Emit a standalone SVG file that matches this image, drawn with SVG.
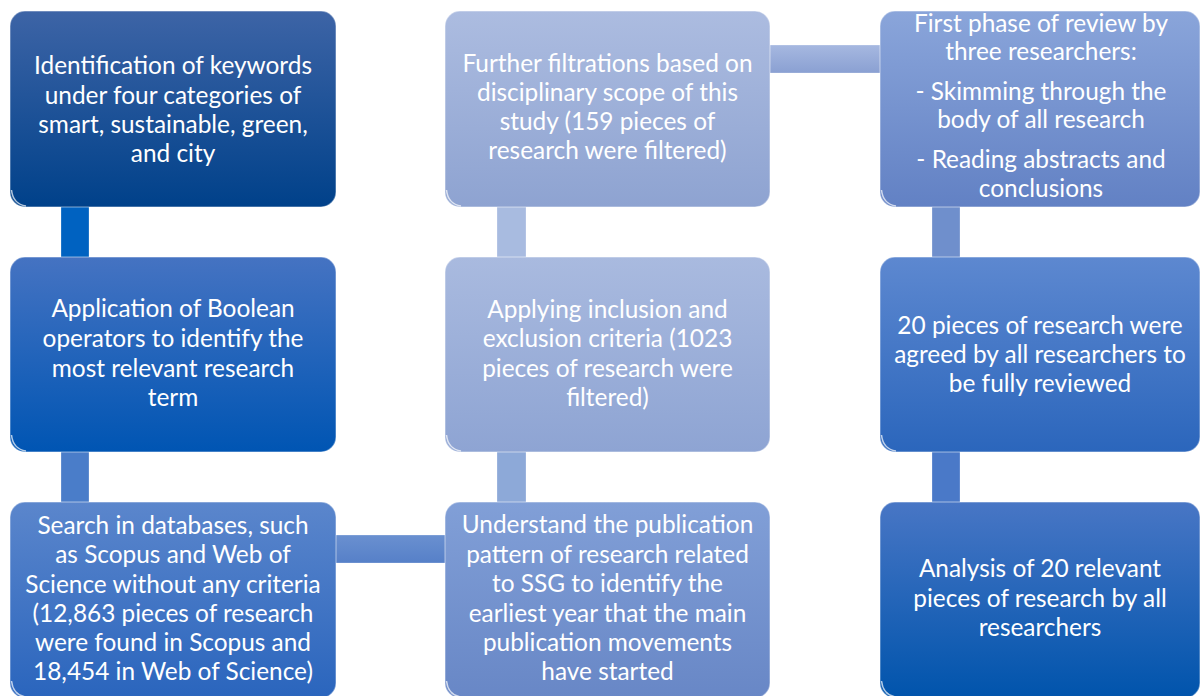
<svg xmlns="http://www.w3.org/2000/svg" width="1201" height="696" viewBox="0 0 1201 696">
<defs>
<linearGradient id="g1" x1="0" y1="0" x2="0" y2="1"><stop offset="0" stop-color="#3d64a6"/><stop offset="1" stop-color="#00418a"/></linearGradient>
<linearGradient id="g2" x1="0" y1="0" x2="0" y2="1"><stop offset="0" stop-color="#4573c2"/><stop offset="1" stop-color="#0055b3"/></linearGradient>
<linearGradient id="g3" x1="0" y1="0" x2="0" y2="1"><stop offset="0" stop-color="#5b86cc"/><stop offset="1" stop-color="#2a65bd"/></linearGradient>
<linearGradient id="g4" x1="0" y1="0" x2="0" y2="1"><stop offset="0" stop-color="#819fd7"/><stop offset="1" stop-color="#6887c6"/></linearGradient>
<linearGradient id="g5" x1="0" y1="0" x2="0" y2="1"><stop offset="0" stop-color="#a9badf"/><stop offset="1" stop-color="#8ea4d3"/></linearGradient>
<linearGradient id="g6" x1="0" y1="0" x2="0" y2="1"><stop offset="0" stop-color="#acbce0"/><stop offset="1" stop-color="#8ea3d1"/></linearGradient>
<linearGradient id="g7" x1="0" y1="0" x2="0" y2="1"><stop offset="0" stop-color="#8aa5da"/><stop offset="1" stop-color="#6281c4"/></linearGradient>
<linearGradient id="g8" x1="0" y1="0" x2="0" y2="1"><stop offset="0" stop-color="#5d88d0"/><stop offset="1" stop-color="#2b66bc"/></linearGradient>
<linearGradient id="g9" x1="0" y1="0" x2="0" y2="1"><stop offset="0" stop-color="#4876c5"/><stop offset="1" stop-color="#0054ac"/></linearGradient>
<linearGradient id="gh" x1="0" y1="0" x2="0" y2="1"><stop offset="0" stop-color="#a6b8e0"/><stop offset="1" stop-color="#8aa0d2"/></linearGradient>
<linearGradient id="gh3" x1="0" y1="0" x2="0" y2="1"><stop offset="0" stop-color="#6a90d0"/><stop offset="1" stop-color="#5680c8"/></linearGradient>
</defs>
<style>
.box{stroke:#ffffff;stroke-opacity:0.35;stroke-width:1.5}
.gloss{fill:none;stroke:#ffffff;stroke-opacity:0.7;stroke-width:1.5}
.lbl{font-family:Lato,"Open Sans","Liberation Sans",sans-serif;font-size:24.4px;fill:#ffffff;text-anchor:middle}
.con{stroke:#ffffff;stroke-opacity:0.25;stroke-width:1}
</style>
<g id="connectors">
<rect class="con" x="61" y="205" width="28" height="54" fill="#0062c1"/>
<rect class="con" x="61" y="450" width="28" height="54" fill="#4a7dc9"/>
<rect class="con" x="334" y="535" width="113" height="28" fill="url(#gh3)"/>
<rect class="con" x="497" y="450" width="29" height="54" fill="#8da9d8"/>
<rect class="con" x="497" y="205" width="29" height="54" fill="#a8bbe0"/>
<rect class="con" x="768" y="45" width="114" height="28" fill="url(#gh)"/>
<rect class="con" x="932" y="205" width="28" height="54" fill="#6f8fcc"/>
<rect class="con" x="932" y="450" width="28" height="54" fill="#4a79c8"/>
</g>
<g id="n1">
<rect class="box" x="10" y="11" width="326" height="196" rx="15" fill="url(#g1)"/>
<path class="gloss" d="M11.5,190 Q13,204 26,206"/>
<text class="lbl"><tspan x="173" y="74">Identification of keywords</tspan><tspan x="173" y="103.5">under four categories of</tspan><tspan x="173" y="133">smart, sustainable, green,</tspan><tspan x="173" y="162">and city</tspan></text>
</g>
<g id="n2">
<rect class="box" x="10" y="257" width="326" height="195" rx="15" fill="url(#g2)"/>
<path class="gloss" d="M11.5,435 Q13,449 26,451"/>
<text class="lbl"><tspan x="173" y="317">Application of Boolean</tspan><tspan x="173" y="347">operators to identify the</tspan><tspan x="173" y="377">most relevant research</tspan><tspan x="173" y="406">term</tspan></text>
</g>
<g id="n3">
<rect class="box" x="10" y="502" width="326" height="196" rx="15" fill="url(#g3)"/>
<path class="gloss" d="M11.5,681 Q13,695 26,697"/>
<text class="lbl"><tspan x="173" y="534">Search in databases, such</tspan><tspan x="173" y="563">as Scopus and Web of</tspan><tspan x="173" y="593">Science without any criteria</tspan><tspan x="173" y="622">(12,863 pieces of research</tspan><tspan x="173" y="651">were found in Scopus and</tspan><tspan x="173" y="680">18,454 in Web of Science)</tspan></text>
</g>
<g id="n4">
<rect class="box" x="445" y="502" width="325" height="196" rx="15" fill="url(#g4)"/>
<path class="gloss" d="M446.5,681 Q448,695 461,697"/>
<text class="lbl"><tspan x="607.5" y="533">Understand the publication</tspan><tspan x="607.5" y="563">pattern of research related</tspan><tspan x="607.5" y="592">to SSG to identify the</tspan><tspan x="607.5" y="622">earliest year that the main</tspan><tspan x="607.5" y="651">publication movements</tspan><tspan x="607.5" y="680">have started</tspan></text>
</g>
<g id="n5">
<rect class="box" x="445" y="257" width="325" height="195" rx="15" fill="url(#g5)"/>
<path class="gloss" d="M446.5,435 Q448,449 461,451"/>
<text class="lbl"><tspan x="607.5" y="318">Applying inclusion and</tspan><tspan x="607.5" y="347">exclusion criteria (1023</tspan><tspan x="607.5" y="377">pieces of research were</tspan><tspan x="607.5" y="406">filtered)</tspan></text>
</g>
<g id="n6">
<rect class="box" x="445" y="11" width="325" height="196" rx="15" fill="url(#g6)"/>
<path class="gloss" d="M446.5,190 Q448,204 461,206"/>
<text class="lbl"><tspan x="607.5" y="72">Further filtrations based on</tspan><tspan x="607.5" y="101">disciplinary scope of this</tspan><tspan x="607.5" y="130">study (159 pieces of</tspan><tspan x="607.5" y="159">research were filtered)</tspan></text>
</g>
<g id="n7">
<rect class="box" x="880" y="11" width="320" height="196" rx="15" fill="url(#g7)"/>
<path class="gloss" d="M881.5,190 Q883,204 896,206"/>
<text class="lbl"><tspan x="1041" y="32">First phase of review by</tspan><tspan x="1041" y="60">three researchers:</tspan><tspan x="1041" y="100">- Skimming through the</tspan><tspan x="1041" y="128">body of all research</tspan><tspan x="1041" y="168">- Reading abstracts and</tspan><tspan x="1041" y="197">conclusions</tspan></text>
</g>
<g id="n8">
<rect class="box" x="880" y="257" width="320" height="195" rx="15" fill="url(#g8)"/>
<path class="gloss" d="M881.5,435 Q883,449 896,451"/>
<text class="lbl"><tspan x="1040" y="334">20 pieces of research were</tspan><tspan x="1040" y="363">agreed by all researchers to</tspan><tspan x="1040" y="392">be fully reviewed</tspan></text>
</g>
<g id="n9">
<rect class="box" x="880" y="502" width="320" height="196" rx="15" fill="url(#g9)"/>
<path class="gloss" d="M881.5,681 Q883,695 896,697"/>
<text class="lbl"><tspan x="1040" y="577">Analysis of 20 relevant</tspan><tspan x="1040" y="607">pieces of research by all</tspan><tspan x="1040" y="636">researchers</tspan></text>
</g>
</svg>
